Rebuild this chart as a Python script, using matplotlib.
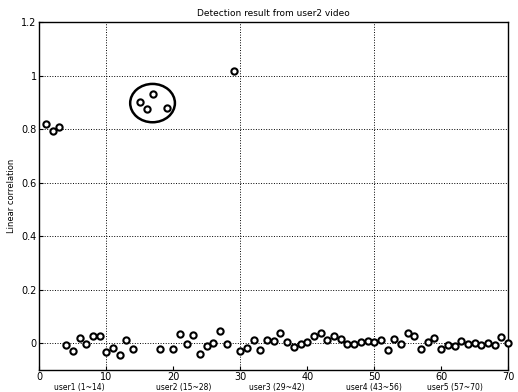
import numpy as np
import matplotlib
matplotlib.use('Agg')
import matplotlib.pyplot as plt
import matplotlib.patches as patches

# linear correlation per video index (1..70)
idx = np.arange(1, 71)
corr = [0.819, 0.794, 0.807, -0.006, -0.027, 0.020, -0.001, 0.028, 0.026, -0.031,
        -0.018, -0.044, 0.012, -0.021, 0.900, 0.874, 0.930, -0.020, 0.880, -0.022,
        0.033, -0.004, 0.030, -0.040, -0.012, 0.000, 0.046, -0.004, 1.016, -0.028,
        -0.017, 0.011, -0.026, 0.012, 0.009, 0.040, 0.006, -0.014, -0.001, 0.003,
        0.027, 0.040, 0.012, 0.028, 0.017, -0.002, -0.002, 0.005, 0.009, 0.005,
        0.014, -0.024, 0.017, -0.004, 0.040, 0.027, -0.022, 0.006, 0.021, -0.020,
        -0.005, -0.010, 0.007, -0.001, 0.000, -0.005, 0.000, -0.006, 0.025, 0.000]

user_labels = ['user1 (1~14)', 'user2 (15~28)', 'user3 (29~42)',
               'user4 (43~56)', 'user5 (57~70)']
user_label_x = [6, 21.5, 35.5, 50, 62]

fig = plt.figure(figsize=(5.18, 3.92), dpi=100)
ax = fig.add_axes([0.076, 0.056, 0.905, 0.888])

ax.plot(idx, corr, 'o', mfc='white', mec='black', mew=1.5, ms=4.5, clip_on=False, zorder=3)

# circle around the user2 matches
ell = patches.Ellipse((16.9, 0.897), 2 * 3.34, 2 * 0.0716, fill=False,
                      ec='black', lw=1.8, zorder=4)
ax.add_patch(ell)

ax.set_xlim(0, 70)
ax.set_ylim(-0.1, 1.2)
ax.set_xticks(np.arange(0, 71, 10))
ax.set_yticks(np.arange(0, 1.21, 0.2))
ax.set_yticklabels(['0', '0.2', '0.4', '0.6', '0.8', '1', '1.2'])
ax.tick_params(direction='in', labelsize=7, length=3, pad=2)
ax.tick_params(axis='x', pad=1.5)

ax.yaxis.grid(True, linestyle=':', color='black', lw=0.7)
ax.xaxis.grid(True, linestyle=':', color='black', lw=0.7)
for t, gl in zip(ax.get_xticks(), ax.xaxis.get_gridlines()):
    if t not in (10, 30, 50):
        gl.set_visible(False)

# user group names under the tick labels
for lab, xx in zip(user_labels, user_label_x):
    ax.text(xx, -0.05, lab, transform=ax.get_xaxis_transform(), ha='center',
            va='center', fontsize=5.5)

ax.set_title('Detection result from user2 video', fontsize=6.5, pad=4)
ax.set_ylabel('Linear correlation', fontsize=6, labelpad=4)

for s in ax.spines.values():
    s.set_linewidth(1.0)

fig.savefig('out.png', dpi=100)
